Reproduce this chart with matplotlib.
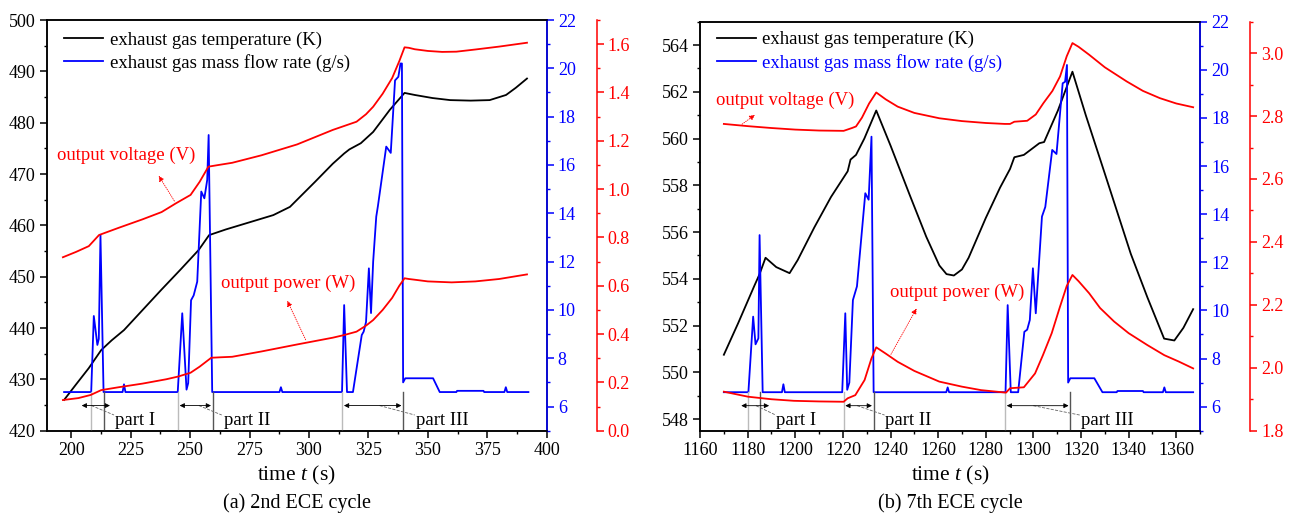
import matplotlib
matplotlib.use('Agg')
import matplotlib.pyplot as plt
from matplotlib.ticker import MultipleLocator

plt.rcParams['font.family'] = ['Liberation Serif', 'DejaVu Serif']
plt.rcParams['mathtext.fontset'] = 'custom'
plt.rcParams['mathtext.rm'] = 'Liberation Serif'
plt.rcParams['mathtext.it'] = 'Liberation Serif:italic'

# ---------------- (a) 2nd ECE cycle ----------------
a_temp_t = [197, 202, 207.4, 212.6, 217, 222.2, 230, 238, 246, 253.6, 258, 265, 275, 285, 292,
            302.6, 310, 314.8, 317, 321.8, 327, 334, 340.2, 344.5, 352, 359.4, 368, 376, 382.9,
            387, 391.7]
a_temp = [426.0, 429.0, 432.2, 435.7, 437.6, 439.6, 443.5, 447.5, 451.4, 455.2, 458.1, 459.2,
          460.6, 462.0, 463.6, 468.5, 472.0, 474.0, 474.8, 476.0, 478.2, 482.5, 485.8, 485.4,
          484.8, 484.4, 484.3, 484.4, 485.4, 486.8, 488.6]

a_volt_t = [196.5, 202, 207.4, 211.7, 220, 230, 238, 244, 250.2, 254, 257.7, 262, 267.7, 280,
            295, 310, 320, 324, 327, 331, 335, 338, 340.2, 342, 344.5, 350, 356, 362, 370, 380,
            391.7]
a_volt = [0.718, 0.74, 0.764, 0.81, 0.84, 0.875, 0.905, 0.941, 0.976, 1.03, 1.093, 1.10, 1.109,
          1.14, 1.185, 1.245, 1.279, 1.31, 1.341, 1.395, 1.46, 1.53, 1.587, 1.585, 1.579, 1.572,
          1.568, 1.569, 1.578, 1.59, 1.606]

a_pow_t = [196.5, 203, 208.2, 212.6, 220, 230, 240, 244.9, 250.2, 254, 258.9, 263, 267.7, 280,
           295, 310, 314.8, 320, 324, 327, 331, 335, 338, 340.2, 342, 344.5, 350, 360, 370, 380,
           391.7]
a_pow = [0.127, 0.135, 0.148, 0.168, 0.18, 0.195, 0.213, 0.224, 0.24, 0.265, 0.302, 0.304, 0.306,
         0.328, 0.357, 0.385, 0.396, 0.41, 0.435, 0.458, 0.5, 0.55, 0.6, 0.631, 0.628, 0.625,
         0.618, 0.614, 0.618, 0.628, 0.647]

a_flow_t = [197, 208.4, 209.5, 211, 211.6, 212.3, 213.6, 221.6, 222.2, 222.8, 244.8, 246.7, 248.5,
            249.2, 250.4, 251.5, 253, 254.7, 256, 257.2, 257.8, 259.3, 287.6, 288.2, 288.8, 313.9,
            314.8, 316, 318.5, 322.2, 323, 324, 325.2, 326.1, 327, 328.3, 329, 332.5, 334.4, 336.2,
            337.6, 338.5, 339.1, 339.6, 340.5, 352.2, 355, 362, 362.3, 373.4, 373.7, 382.2, 382.8,
            383.4, 392.3]
a_flow = [6.6, 6.6, 9.75, 8.55, 8.8, 13.1, 6.6, 6.6, 6.92, 6.6, 6.6, 9.86, 6.7, 6.97, 10.4, 10.6,
          11.17, 14.9, 14.62, 15.38, 17.24, 6.6, 6.6, 6.8, 6.6, 6.6, 10.2, 6.6, 6.6, 8.96, 9.1, 9.5,
          11.72, 9.87, 12.0, 13.86, 14.3, 16.76, 16.5, 19.5, 19.65, 20.2, 20.2, 7.0, 7.17, 7.17,
          6.6, 6.6, 6.65, 6.65, 6.6, 6.6, 6.8, 6.6, 6.6]

a_parts = [(208.4, 213.6), (244.9, 259.5), (314.0, 339.6)]
a_arrows = [(204.4, 216.3), (245.6, 258.8), (314.7, 338.9)]
a_part_labels = ['part I', 'part II', 'part III']
a_label_t = [218.3, 264.1, 345.0]
a_leader_t = [(208.5, 218.0), (253.7, 263.3), (329.7, 344.5)]

# ---------------- (b) 7th ECE cycle ----------------
b_temp_t = [1170, 1176, 1182.8, 1185, 1187.5, 1192, 1197.6, 1201, 1208, 1215, 1222, 1223.2,
            1225.5, 1229, 1234, 1240, 1248, 1255, 1260.5, 1263.5, 1266.6, 1270, 1272.8, 1280,
            1286, 1290.2, 1292, 1296, 1302.5, 1304.5, 1310.3, 1316.4, 1322, 1330, 1340.9, 1347.9,
            1354.9, 1359.2, 1363, 1367.1]
b_temp = [550.75, 552.1, 553.7, 554.2, 554.9, 554.5, 554.24, 554.8, 556.2, 557.5, 558.6, 559.1,
          559.3, 560.0, 561.2, 559.7, 557.6, 555.8, 554.57, 554.2, 554.14, 554.4, 554.9, 556.6,
          557.9, 558.7, 559.2, 559.3, 559.8, 559.85, 561.2, 562.86, 561.0, 558.5, 555.07, 553.2,
          551.44, 551.36, 551.9, 552.7]

b_volt_t = [1170, 1180, 1190, 1200, 1210, 1220.3, 1223.8, 1225.5, 1228, 1231, 1234, 1238, 1243,
            1250, 1260.5, 1270, 1280, 1288, 1290.2, 1292, 1297.4, 1301, 1304.2, 1308, 1311.2,
            1314, 1316.4, 1319, 1323.4, 1330, 1339.2, 1346, 1353.1, 1360, 1367.1]
b_volt = [2.775, 2.768, 2.762, 2.757, 2.754, 2.753, 2.762, 2.767, 2.795, 2.84, 2.875, 2.853, 2.83,
          2.81, 2.793, 2.784, 2.778, 2.775, 2.775, 2.782, 2.785, 2.805, 2.841, 2.88, 2.926, 2.99,
          3.032, 3.02, 2.995, 2.955, 2.91, 2.88, 2.857, 2.84, 2.828]

b_pow_t = [1170, 1180.2, 1190, 1199.4, 1210, 1220.3, 1222, 1225.2, 1229.1, 1232, 1234, 1238,
           1243, 1250, 1260.5, 1270, 1278, 1288.5, 1290.2, 1296, 1300.7, 1304, 1307.7, 1311, 1314,
           1316.4, 1319, 1323.4, 1328, 1333.9, 1340, 1347.9, 1355, 1361, 1367.1]
b_pow = [1.924, 1.908, 1.9, 1.895, 1.893, 1.892, 1.903, 1.913, 1.961, 2.03, 2.065, 2.045, 2.019,
         1.99, 1.956, 1.94, 1.929, 1.921, 1.935, 1.938, 1.982, 2.04, 2.11, 2.19, 2.26, 2.295,
         2.275, 2.237, 2.19, 2.147, 2.11, 2.072, 2.04, 2.02, 1.998]

b_flow_t = [1170, 1180.3, 1182.3, 1183.3, 1184.5, 1185, 1186.3, 1194.4, 1195, 1195.6, 1219.7,
            1221, 1221.8, 1222.7, 1224.2, 1225.9, 1229.4, 1230.8, 1232, 1232.9, 1263.4, 1264,
            1264.6, 1288.3, 1289.2, 1290.5, 1293.6, 1296.2, 1297.4, 1298.5, 1299.8, 1301, 1303.6,
            1305, 1307.9, 1309.7, 1312.3, 1313.3, 1314.1, 1314.6, 1315.5, 1325.6, 1329, 1335,
            1335.3, 1346, 1346.3, 1354.4, 1355, 1355.6, 1367.1]
b_flow = [6.6, 6.6, 9.74, 8.59, 8.84, 13.13, 6.6, 6.6, 6.93, 6.6, 6.6, 9.88, 6.7, 7.0, 10.43,
          11.0, 14.87, 14.6, 17.22, 6.6, 6.6, 6.8, 6.6, 6.6, 10.22, 6.6, 6.6, 9.11, 9.2, 9.6, 11.75,
          9.88, 13.9, 14.3, 16.67, 16.5, 19.44, 19.5, 20.2, 7.0, 7.18, 7.18, 6.6, 6.6, 6.65, 6.65,
          6.6, 6.6, 6.8, 6.6, 6.6]

b_parts = [(1180.3, 1185.2), (1220.3, 1232.9), (1288.1, 1315.5)]
b_arrows = [(1177.3, 1189.0), (1221.0, 1232.2), (1288.8, 1314.8)]
b_part_labels = ['part I', 'part II', 'part III']
b_label_t = [1192.1, 1237.8, 1319.9]
b_leader_t = [(1183.5, 1191.8), (1226.0, 1237.5), (1300.0, 1319.5)]


def panel(rect, xlim, xstep, tlim, tstep, vlim, data, parts, arrows, labels, label_t, leader_t,
          volt_txt, volt_arrow, pow_txt, pow_arrow, legend_xy, flow_text_color, caption):
    temp_t, temp, volt_t, volt, pow_t, pw, flow_t, flow = data
    ax = fig.add_axes(rect)
    axf = ax.twinx()
    axv = ax.twinx()
    axv.spines['right'].set_position(('outward', 36))

    l1, = ax.plot(temp_t, temp, color='black', lw=1.3)
    l2, = axf.plot(flow_t, flow, color='#0000ff', lw=1.3)
    axv.plot(volt_t, volt, color='#ff0000', lw=1.3)
    axv.plot(pow_t, pw, color='#ff0000', lw=1.3)

    ax.set_xlim(*xlim)
    ax.set_ylim(*tlim)
    axf.set_ylim(5, 22)
    axv.set_ylim(*vlim)
    ax.xaxis.set_major_locator(MultipleLocator(xstep))
    ax.xaxis.set_minor_locator(MultipleLocator(xstep / 2))
    ax.yaxis.set_major_locator(MultipleLocator(tstep))
    ax.yaxis.set_minor_locator(MultipleLocator(tstep / 2))
    axf.yaxis.set_major_locator(MultipleLocator(2))
    axf.yaxis.set_minor_locator(MultipleLocator(1))
    axv.yaxis.set_major_locator(MultipleLocator(0.2))
    axv.yaxis.set_minor_locator(MultipleLocator(0.1))
    axv.yaxis.set_major_formatter('{x:.1f}')

    for a in (ax, axf, axv):
        for s in a.spines.values():
            s.set_linewidth(1.1)
        a.tick_params(which='major', length=5, width=1.1, labelsize=13, direction='out', pad=3)
        a.tick_params(which='minor', length=2.5, width=1.0, direction='out')
    axf.spines['right'].set_color('#0000ff')
    axf.tick_params(axis='y', which='both', colors='#0000ff')
    axv.spines['right'].set_color('#ff0000')
    axv.tick_params(axis='y', which='both', colors='#ff0000')
    for s in ('left', 'top', 'bottom'):
        axv.spines[s].set_visible(False)

    ax.set_xlabel('time $t$ (s)', fontsize=15.5, labelpad=4)
    ax.text(0.5, -0.176, caption, transform=ax.transAxes, ha='center', va='center', fontsize=14.5)

    leg = ax.legend([l1, l2], ['exhaust gas temperature (K)', 'exhaust gas mass flow rate (g/s)'],
                    loc='upper left', bbox_to_anchor=legend_xy, frameon=False, fontsize=13.5,
                    handlelength=2.1, handletextpad=0.35, labelspacing=0.28, borderpad=0,
                    borderaxespad=0)
    leg.get_texts()[1].set_color(flow_text_color)
    leg.set_zorder(10)

    # red labels with dotted pointers
    ax.text(volt_txt[0], volt_txt[1], 'output voltage (V)', color='#ff0000', fontsize=13.5,
            ha='center', va='center')
    axv.annotate('', xy=volt_arrow[1], xytext=volt_arrow[0],
                 arrowprops=dict(arrowstyle='-|>', color='#ff0000', lw=0.6, ls=':',
                                 mutation_scale=8))
    ax.text(pow_txt[0], pow_txt[1], 'output power (W)', color='#ff0000', fontsize=13.5,
            ha='center', va='center')
    axv.annotate('', xy=pow_arrow[1], xytext=pow_arrow[0],
                 arrowprops=dict(arrowstyle='-|>', color='#ff0000', lw=0.6, ls=':',
                                 mutation_scale=8))

    # part markers
    for (t0, t1), (a0, a1), lab, lt, (q0, q1) in zip(parts, arrows, labels, label_t, leader_t):
        axf.plot([t0, t0], [5, 6.6], color='#bbbbbb', lw=1.0)
        axf.plot([t1, t1], [5, 6.6], color='#555555', lw=1.0)
        axf.annotate('', xy=(a1, 6.04), xytext=(a0, 6.04),
                     arrowprops=dict(arrowstyle='<|-|>', color='black', lw=0.6,
                                     mutation_scale=7, shrinkA=0, shrinkB=0))
        axf.plot([q0, q1], [6.04, 5.65], color='#666666', lw=0.6, ls='--')
        axf.text(lt, 5.42, lab, fontsize=13.5, ha='left', va='center')
    return ax


fig = plt.figure(figsize=(12.94, 5.16), dpi=100)

panel([0.0363, 0.1653, 0.3862, 0.7959], (189.8, 400), 25, (420, 500), 10, (0, 1.7),
      (a_temp_t, a_temp, a_volt_t, a_volt, a_pow_t, a_pow, a_flow_t, a_flow),
      a_parts, a_arrows, a_part_labels, a_label_t, a_leader_t,
      (223.0, 473.7), ((244.0, 0.941), (236.2, 1.065)),
      (291.3, 448.7), ((299.1, 0.366), (290.4, 0.548)),
      (0.034, 0.972), 'black', '(a) 2nd ECE cycle')

panel([0.541, 0.1653, 0.3864, 0.7927], (1160, 1370), 20, (547.5, 565), 2, (1.8, 3.1),
      (b_temp_t, b_temp, b_volt_t, b_volt, b_pow_t, b_pow, b_flow_t, b_flow),
      b_parts, b_arrows, b_part_labels, b_label_t, b_leader_t,
      (1195.6, 561.62), ((1176.7, 2.769), (1184.0, 2.809)),
      (1267.8, 553.43), ((1239.6, 2.035), (1251.5, 2.196)),
      (0.033, 0.977), '#0000ff', '(b) 7th ECE cycle')

fig.savefig('out.png', dpi=100)
